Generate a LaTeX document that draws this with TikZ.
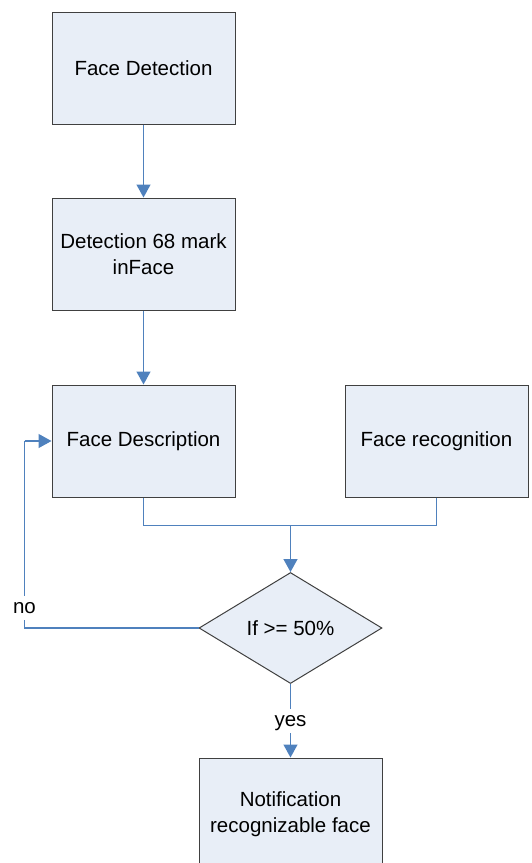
\documentclass[tikz,border=0pt]{standalone}
\usepackage{fontspec}
\setmainfont{Liberation Sans}
\usetikzlibrary{arrows.meta,shapes.geometric}
\definecolor{boxfill}{RGB}{232,238,247}
\definecolor{boxline}{RGB}{64,64,64}
\definecolor{conn}{RGB}{79,129,189}
\begin{document}
\begin{tikzpicture}[x=1pt,y=-1pt,
  every node/.style={font=\fontsize{20.5}{25.5}\selectfont},
  procbox/.style={draw=boxline,fill=boxfill,line width=1pt,minimum width=183pt,minimum height=112pt,align=center,inner sep=0pt},
  decbox/.style={draw=boxline,fill=boxfill,line width=1pt,diamond,aspect=1.65,minimum width=183pt,minimum height=111pt,inner sep=0pt},
  conline/.style={draw=conn,line width=1.3pt},
  arr/.style={conline,-{Triangle[width=14pt,length=13pt]}},
  lbl/.style={fill=white,inner sep=2pt,text height=15pt,text depth=5pt}]
\useasboundingbox (0,0) rectangle (532,863);
\node[procbox] (fd) at (143.5,68) {Face Detection};
\node[procbox] (dm) at (143.5,254) {Detection 68 mark\\inFace};
\node[procbox] (fdesc) at (143.5,441) {Face Description};
\node[procbox] (frec) at (436.5,441) {Face recognition};
\node[decbox] (dec) at (290.5,628) {If >= 50\%};
\node[procbox] (note) at (290.5,814) {Notification\\recognizable face};
\coordinate (merge) at (290.5,525.5);
\coordinate (loopb) at (24.5,628);
\coordinate (loopt) at (24.5,441);
\draw[arr] (fd.south) -- (dm.north);
\draw[arr] (dm.south) -- (fdesc.north);
\draw[conline] (fdesc.south) |- (merge);
\draw[conline] (frec.south) |- (merge);
\draw[arr] (merge) -- (dec.north);
\draw[conline] (dec.west) -- (loopb) -- (loopt);
\draw[arr] (loopt) -- (fdesc.west);
\draw[arr] (dec.south) -- (note.north);
\node[lbl] (no) at (24.5,608) {no};
\node[lbl] (yes) at (290.5,721) {yes};
\end{tikzpicture}
\end{document}
